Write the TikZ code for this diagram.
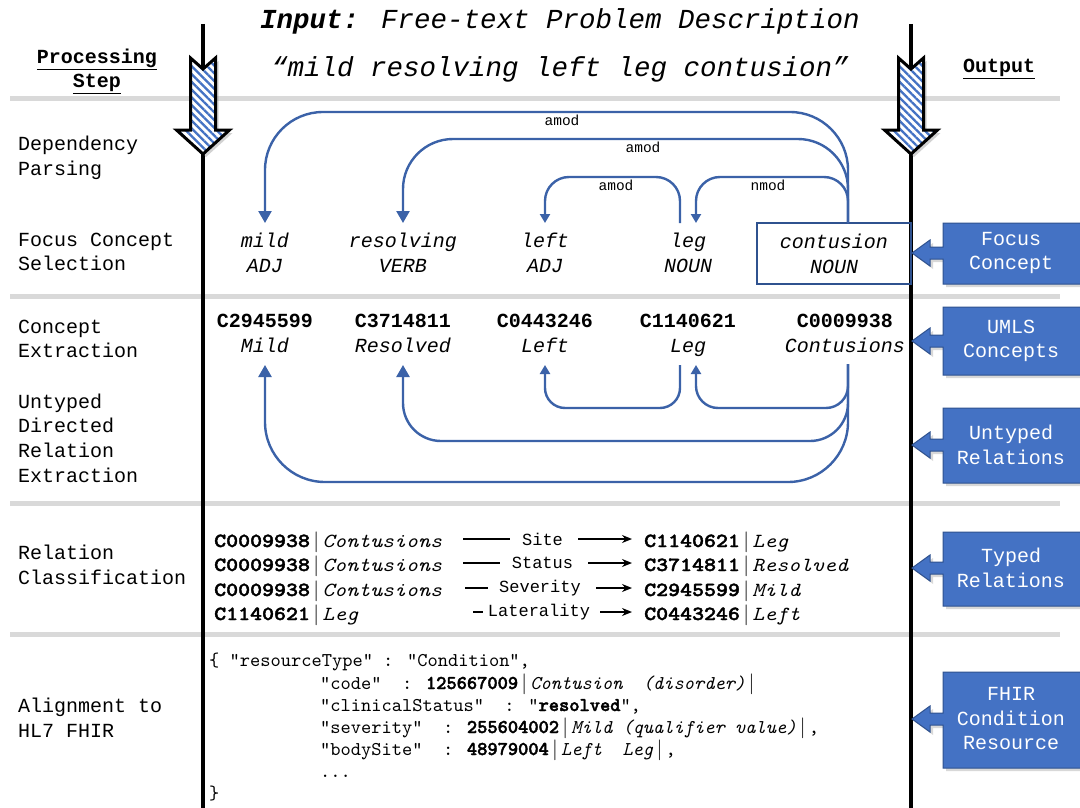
\documentclass[tikz,border=0pt]{standalone}
\usepackage{fontspec}
\setmainfont{Liberation Mono}
\newfontfamily\relfont{lmmono10-regular}[Extension=.otf, BoldFont=lmmonolt10-bold, BoldFeatures={FakeBold=2}, ItalicFont=lmmono10-italic, BoldItalicFont=lmmonolt10-boldoblique, FakeStretch=1.14]
\newfontfamily\fhirfont{lmmono10-regular}[Extension=.otf, BoldFont=lmmonolt10-bold, BoldFeatures={FakeBold=2}, ItalicFont=lmmono10-italic, BoldItalicFont=lmmonolt10-boldoblique]
\usetikzlibrary{arrows.meta, patterns.meta, shadows, calc}
\definecolor{dblue}{HTML}{3B62A8}
\definecolor{fblue}{HTML}{4472C4}
\definecolor{bblue}{HTML}{2F528F}
\definecolor{lgray}{HTML}{D9D9D9}
\newcommand\callshape[3]{%
  \filldraw[callbox] (943,#1) -- (1090,#1) -- (1090,#2) -- (943,#2) -- (943,#3+6) -- (930,#3+6) -- (930,#3+13) -- (912,#3) -- (930,#3-13) -- (930,#3-6) -- (943,#3-6) -- cycle;}
\newcommand\stripearrow[1]{%
  \begin{scope}[shift={(#1,0)}]
  \path[fill=white, drop shadow={shadow xshift=3pt,shadow yshift=-3pt,opacity=.35},
        postaction={pattern={Lines[angle=-45,distance=5.5pt,line width=2.3pt]}, pattern color=fblue},
        postaction={draw=black, line width=3pt, line join=miter}]
     (-12.5,58) -- (0,69) -- (12.5,58) -- (12.5,130) -- (26.5,130) -- (0,154) -- (-26.5,130) -- (-12.5,130) -- cycle;
  \end{scope}}
\newcommand\vb{\,$|$\,}
\begin{document}
\begin{tikzpicture}[x=1pt,y=-1pt,
  lab/.style={anchor=west, align=left, inner sep=0, font=\fontsize{20}{24.6}\selectfont},
  hd/.style={align=center, inner sep=0, font=\fontsize{20}{24}\selectfont\bfseries},
  wd/.style={align=center, inner sep=0, anchor=base, font=\fontsize{20}{25}\selectfont\itshape},
  cp/.style={align=center, inner sep=0, anchor=base, font=\fontsize{20}{25}\selectfont},
  deplab/.style={inner sep=0, font=\fontsize{14.5}{16}\selectfont},
  dep/.style={draw=dblue, line width=2.4pt},
  bigtip/.style={-{Triangle[width=13pt,length=12pt]}},
  smalltip/.style={-{Triangle[width=10pt,length=9pt]}},
  callbox/.style={fill=fblue, draw=bblue, line width=1pt, drop shadow={shadow xshift=3pt,shadow yshift=-3pt,opacity=.3}},
  ctext/.style={align=center, text=white, inner sep=0, font=\fontsize{20}{24.5}\selectfont},
  rel/.style={anchor=base west, inner sep=0, font=\relfont\fontsize{20}{24}\selectfont},
  relr/.style={anchor=base west, inner sep=0, inner xsep=12pt, font=\relfont\fontsize{20}{24}\selectfont},
  rlab/.style={inner sep=0, font=\fontsize{17}{20}\selectfont},
  rline/.style={line width=1.5pt},
  rarrow/.style={line width=1.5pt, -{Stealth[length=10pt,width=8pt]}},
  fh/.style={anchor=base west, inner sep=0, font=\fhirfont\fontsize{19.5}{22}\selectfont},
  sep/.style={line width=5pt, lgray},
  vline/.style={line width=4pt, black}]
\useasboundingbox (0,0) rectangle (1080,808);
\fill[white] (0,0) rectangle (1080,808);

% separators
\foreach \yy in {99,296,503,634} \draw[sep] (10,\yy) -- (1060,\yy);

% vertical time lines
\draw[vline] (203,24) -- (203,808);
\draw[vline] (911,24) -- (911,808);
\stripearrow{203}
\stripearrow{911}

% titles
\node[inner sep=0, font=\fontsize{27.5}{30}\selectfont\itshape] (title) at (560,21) {\textbf{Input:} Free-text Problem Description};
\node[inner sep=0, font=\fontsize{27.5}{30}\selectfont\itshape] (phrase) at (560,69) {“mild resolving left leg contusion”};
\node[hd] (proc) at (97,71) {\underline{Processing}\\\underline{Step}};
\node[hd] (outp) at (999,69) {\underline{Output}};

% left step labels
\node[lab] (s1) at (18,158) {Dependency\\Parsing};
\node[lab] (s2) at (18,252) {Focus Concept\\Selection};
\node[lab] (s3) at (18,339) {Concept\\Extraction};
\node[lab] (s4) at (18,438) {Untyped\\Directed\\Relation\\Extraction};
\node[lab] (s5) at (18,565) {Relation\\Classification};
\node[lab] (s6) at (18,718) {Alignment to\\HL7 FHIR};

% words (base = baseline of the last line)
\node[wd] (w1) at (265,272) {mild\\ADJ};
\node[wd] (w2) at (403,272) {resolving\\VERB};
\node[wd] (w3) at (545,272) {left\\ADJ};
\node[wd] (w4) at (688,272) {leg\\NOUN};
\node[wd, draw=bblue, line width=2pt, minimum width=154pt, minimum height=61pt, anchor=center] (cbox) at (834,253.5) {contusion\\NOUN};

% concepts
\node[cp] (c1) at (265,352) {\textbf{C2945599}\\\textit{Mild}};
\node[cp] (c2) at (403,352) {\textbf{C3714811}\\\textit{Resolved}};
\node[cp] (c3) at (545,352) {\textbf{C0443246}\\\textit{Left}};
\node[cp] (c4) at (688,352) {\textbf{C1140621}\\\textit{Leg}};
\node[cp] (c5) at (845,352) {\textbf{C0009938}\\\textit{Contusions}};

% helper coordinates
\coordinate (toprow) at (0,223);
\coordinate (botrow) at (0,365);
\coordinate (hubT) at (848,223);
\coordinate (hubB) at (848,364);
\coordinate (legin) at (696,0);
\coordinate (legout) at (680,0);

% dependency arcs
\draw[dep, bigtip, rounded corners=58pt] (hubT) |- (265,112) -- (w1 |- toprow);
\draw[dep, bigtip, rounded corners=50pt] (hubT) |- (403,139) -- (w2 |- toprow);
\draw[dep, smalltip, rounded corners=24pt] (hubT) |- (696,177) -- (legin |- toprow);
\draw[dep, smalltip, rounded corners=24pt] (legout |- toprow) |- (545,177) -- (w3 |- toprow);
\node[deplab] (d1) at (562,120) {amod};
\node[deplab] (d2) at (643,147) {amod};
\node[deplab] (d3) at (616,185) {amod};
\node[deplab] (d4) at (768,185) {nmod};

% untyped relation arcs
\draw[dep, smalltip, rounded corners=22pt] (hubB) |- (696,408) -- (legin |- botrow);
\draw[dep, smalltip, rounded corners=20pt] (legout |- botrow) |- (545,408) -- (c3 |- botrow);
\draw[dep, bigtip, rounded corners=38pt] (hubB) |- (403,441) -- (c2 |- botrow);
\draw[dep, bigtip, rounded corners=60pt] (hubB) |- (265,482) -- (c1 |- botrow);

% typed relations
\node[rel] (ra1) at (214,547) {\textbf{C0009938}\vb\textit{Contusions}};
\node[rel] (ra2) at (214,571) {\textbf{C0009938}\vb\textit{Contusions}};
\node[rel] (ra3) at (214,596) {\textbf{C0009938}\vb\textit{Contusions}};
\node[rel] (ra4) at (214,620) {\textbf{C1140621}\vb\textit{Leg}};
\node[rlab] (t1) at (542.5,539) {Site};
\node[rlab] (t2) at (542.5,563) {Status};
\node[rlab] (t3) at (540,588) {Severity};
\node[rlab] (t4) at (539,612) {Laterality};
\node[relr] (rb1) at (632,547) {\textbf{C1140621}\vb\textit{Leg}};
\node[relr] (rb2) at (632,571) {\textbf{C3714811}\vb\textit{Resolved}};
\node[relr] (rb3) at (632,596) {\textbf{C2945599}\vb\textit{Mild}};
\node[relr] (rb4) at (632,620) {\textbf{C0443246}\vb\textit{Left}};
\coordinate (e1) at (463,539);
\coordinate (e2) at (463,563);
\coordinate (e3) at (465,588);
\coordinate (e4) at (473,612);
\coordinate (g1) at (632,539);
\coordinate (g2) at (632,563);
\coordinate (g3) at (632,588);
\coordinate (g4) at (632,612);
\draw[rline] (e1) -- ([xshift=-12pt]t1.west);
\draw[rline] (e2) -- ([xshift=-12pt]t2.west);
\draw[rline] (e3) -- ([xshift=-11pt]t3.west);
\draw[rline] (e4) -- ([xshift=-5pt]t4.west);
\draw[rarrow] ([xshift=15pt]t1.east) -- (g1);
\draw[rarrow] ([xshift=15pt]t2.east) -- (g2);
\draw[rarrow] ([xshift=15pt]t3.east) -- (g3);
\draw[rarrow] ([xshift=10pt]t4.east) -- (g4);

% FHIR
\node[fh] (f1) at (209,666) {\{ "resourceType" : "Condition",};
\node[fh] (f2) at (320,689) {"code"\ \ : \textbf{125667009}\vb\textit{Contusion\ \ (disorder)}\vb};
\node[fh] (f3) at (320,711) {"clinicalStatus"\ \ : "\textbf{resolved}",};
\node[fh] (f4) at (320,733) {"severity"\ \ : \textbf{255604002}\vb\textit{Mild (qualifier value)}\vb,};
\node[fh] (f5) at (320,755) {"bodySite"\ \ : \textbf{48979004}\vb\textit{Left\ \ Leg}\vb,};
\node[fh] (f6) at (320,777) {...};
\node[fh] (f7) at (209,799) {\}};

% output callouts
\callshape{223}{284}{253}
\node[ctext] (o1) at (1011,253) {Focus\\Concept};
\callshape{307}{375}{341}
\node[ctext] (o2) at (1011,341) {UMLS\\Concepts};
\callshape{408}{483}{445}
\node[ctext] (o3) at (1011,445) {Untyped\\Relations};
\callshape{532}{606}{568}
\node[ctext] (o4) at (1011,568) {Typed\\Relations};
\callshape{672}{768}{719}
\node[ctext] (o5) at (1011,719) {FHIR\\Condition\\Resource};
\end{tikzpicture}
\end{document}
